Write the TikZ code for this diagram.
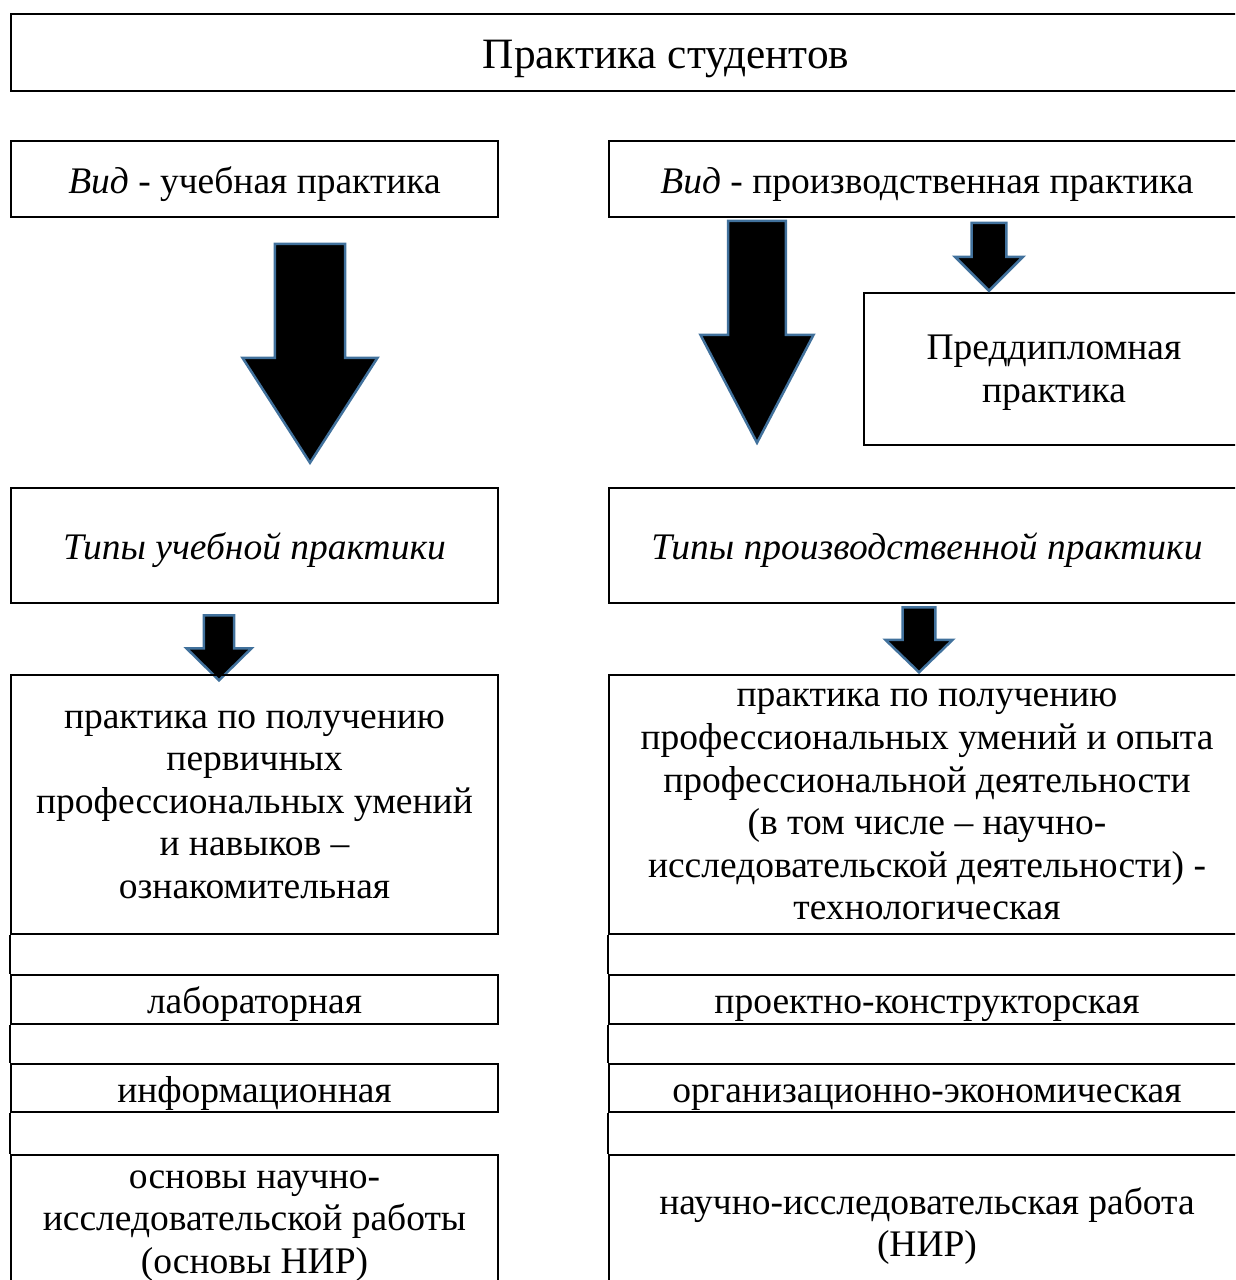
\documentclass[tikz,border=0pt]{standalone}
\usepackage{fontspec}
\setmainfont{Liberation Serif}
\usepackage{tikz}
\usetikzlibrary{shapes,arrows,positioning,calc}
\usepackage{xcolor}
\definecolor{arrowblue}{RGB}{65, 113, 156}
\newcommand{\bodyfont}{\fontsize{37.5}{42.6}\selectfont}

\begin{document}
\begin{tikzpicture}[
    x=1pt, y=-1pt,
    box/.style={rectangle, draw, line width=2pt, inner sep=0pt, align=center, font=\bodyfont,
        execute at begin node={\rule{0pt}{1.02em}}, execute at end node={\rule[-0.27em]{0pt}{0.27em}}},
    multi/.style={text depth=-5pt, execute at begin node={\rule{0pt}{1.18em}}},
    colbox/.style={box, minimum width=487, minimum height=#1},
    widebox/.style={box, minimum width=636, minimum height=#1},
    bigdown/.style={single arrow, draw=arrowblue, line width=2.5pt, fill=black, shape border rotate=270, anchor=tail},
]
    \useasboundingbox (0,0) rectangle (1235,1280);
    \clip (0,0) rectangle (1235,1280);

    % Top
    \node[box, minimum width=1310, minimum height=77, font=\fontsize{43.3}{49}\selectfont] (title) at (666, 52.5) {Практика студентов};

    % Kinds
    \node[colbox=76] (vidU) at (254.5, 179) {\textit{Вид} - учебная практика};
    \node[widebox=76] (vidP) at (927, 179) {\textit{Вид} - производственная практика};
    \node[box, multi, minimum width=380, minimum height=152] (pred) at (1054, 369) {Преддипломная\\практика};

    % Types
    \node[colbox=115] (tipU) at (254.5, 545.5) {\textit{Типы учебной практики}};
    \node[widebox=115] (tipP) at (927, 545.5) {\textit{Типы производственной практики}};

    % Arrows
    \node[bigdown, minimum height=219, minimum width=135, inner sep=26, single arrow head extend=25, single arrow tip angle=65.5] (aU) at (310, 242.5) {};
    \node[bigdown, minimum height=222, minimum width=113, inner sep=21.9, single arrow head extend=22, single arrow tip angle=55.3] (aP) at (757, 219.5) {};
    \node[bigdown, minimum height=68, minimum width=68, inner sep=13.2, single arrow head extend=14, single arrow tip angle=90] (aPred) at (989, 221.5) {};
    \node[bigdown, minimum height=65, minimum width=65, inner sep=10.9, single arrow head extend=14, single arrow tip angle=91] (aTU) at (219, 614) {};
    \node[bigdown, minimum height=65, minimum width=67, inner sep=12, single arrow head extend=14, single arrow tip angle=92] (aTP) at (919, 606) {};

    % Left column
    \node[colbox=259, multi] (u1) at (254.5, 804.5) {практика по получению\\первичных\\профессиональных умений\\и навыков –\\ознакомительная};
    \node[colbox=45] (u2) at (254.5, 999.5) {лабораторная};
    \node[colbox=44] (u3) at (254.5, 1088) {информационная};
    \node[colbox=134, multi] (u4) at (254.5, 1222) {основы научно-\\исследовательской работы\\(основы НИР)};

    % Right column
    \node[widebox=259, multi] (p1) at (927, 804.5) {практика по получению\\профессиональных умений и опыта\\профессиональной деятельности\\(в том числе – научно-\\исследовательской деятельности) -\\технологическая};
    \node[widebox=45] (p2) at (927, 999.5) {проектно-конструкторская};
    \node[widebox=44] (p3) at (927, 1088) {организационно-экономическая};
    \node[widebox=134, multi] (p4) at (927, 1222) {научно-исследовательская работа\\(НИР)};

    % Left edges between boxes
    \foreach \a/\b in {u1/u2, u2/u3, u3/u4, p1/p2, p2/p3, p3/p4} {
        \draw[line width=2pt] (\a.south west) -- (\b.north west);
    }
\end{tikzpicture}
\end{document}
